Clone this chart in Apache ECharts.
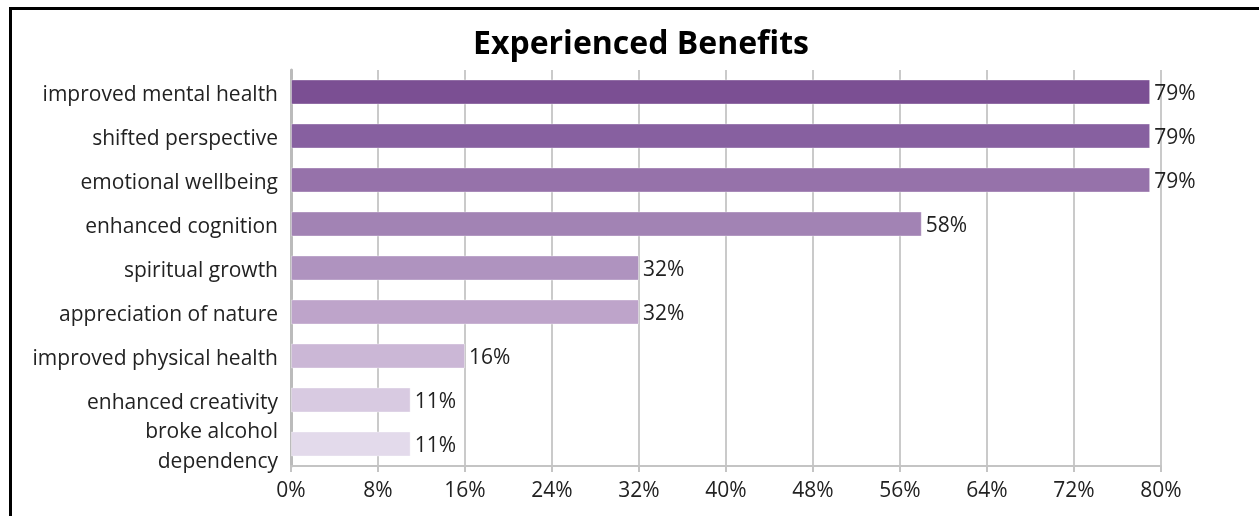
<!DOCTYPE html>
<html>
<head>
<meta charset="utf-8">
<title>Experienced Benefits</title>
<script src="https://cdn.jsdelivr.net/npm/echarts@6/dist/echarts.min.js"></script>
<style>
  html, body { margin: 0; padding: 0; background: #fff; }
  #chart { width: 1259px; height: 516px; }
  #frame {
    position: absolute; left: 9px; top: 7px; width: 1300px; height: 560px;
    border: 3px solid #000; box-sizing: border-box; pointer-events: none;
  }
</style>
</head>
<body>
<div id="chart"></div>
<div id="frame"></div>
<script>
// Share of respondents reporting each benefit (%)
const categories = [
  'improved mental health',
  'shifted perspective',
  'emotional wellbeing',
  'enhanced cognition',
  'spiritual growth',
  'appreciation of nature',
  'improved physical health',
  'enhanced creativity',
  'broke alcohol\ndependency'
];
const values = [79, 79, 79, 58, 32, 32, 16, 11, 11];
const barColors = [
  '#7B4F93', '#8760A0', '#9672AA', '#A283B4', '#AF93BF',
  '#BEA4CA', '#CBB7D6', '#D8CAE1', '#E3DAEB'
];
const xTicks = { min: 0, max: 80, interval: 8 };

const FONT = '"Open Sans", "Noto Sans", sans-serif';
const chart = echarts.init(document.getElementById('chart'));

chart.setOption({
  animation: false,
  title: {
    text: 'Experienced Benefits',
    left: 468,
    top: 24,
    textStyle: { fontFamily: FONT, fontSize: 32, fontWeight: 'bold', color: '#000' }
  },
  grid: { left: 291, right: 98, top: 70, bottom: 50, containLabel: false },
  xAxis: {
    type: 'value',
    min: xTicks.min,
    max: xTicks.max,
    interval: xTicks.interval,
    axisLine: { show: true, lineStyle: { color: '#C4C4C4', width: 2 } },
    axisTick: { show: true, length: 6, lineStyle: { color: '#C4C4C4', width: 2 } },
    axisLabel: {
      formatter: '{value}%', fontFamily: FONT, fontSize: 21, color: '#222', margin: 15
    },
    splitLine: { show: true, lineStyle: { color: '#CACACA', width: 2 } }
  },
  yAxis: {
    type: 'category',
    inverse: true,
    data: categories,
    axisLine: { show: true, lineStyle: { color: '#BBBBBB', width: 3 } },
    axisTick: { show: false },
    axisLabel: {
      interval: 0,
      hideOverlap: false,
      margin: 13,
      formatter: (v) => {
        const lines = v.split('\n');
        const style = lines.length > 1 ? 'm' : 't';
        return lines.map((s) => '{' + style + '|' + s + '}').join('\n');
      },
      rich: {
        t: {
          fontFamily: FONT, fontSize: 21, color: '#222',
          lineHeight: 24, padding: [6, 0, 0, 0], align: 'right'
        },
        m: {
          fontFamily: FONT, fontSize: 21, color: '#222',
          lineHeight: 30, padding: [6, 0, 0, 0], align: 'right'
        }
      }
    }
  },
  series: [{
    type: 'bar',
    data: values.map((v, i) => ({ value: v, itemStyle: { color: barColors[i] } })),
    barWidth: 25,
    itemStyle: { borderColor: 'rgba(255,255,255,0.35)', borderWidth: 1 },
    label: {
      show: true,
      position: 'right',
      distance: 4,
      offset: [0, 2],
      formatter: '{c}%',
      fontFamily: FONT,
      fontSize: 21,
      color: '#222'
    }
  }]
});
</script>
</body>
</html>
